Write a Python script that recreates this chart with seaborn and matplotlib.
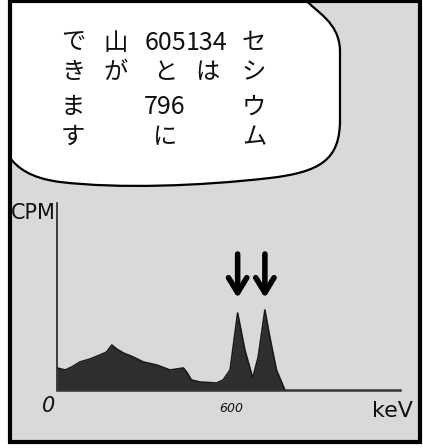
import matplotlib
matplotlib.use("Agg")
import matplotlib.pyplot as plt
from matplotlib.path import Path
from matplotlib.patches import PathPatch, Rectangle
import pandas as pd
import seaborn as sns

# spectrum (keV, counts in arbitrary units)
kev = [1, 28, 51, 79, 114, 148, 171, 189, 206, 229, 263, 298, 344, 390, 436, 447,
       464, 493, 551, 573, 597, 623, 648, 675, 694, 717, 734, 757, 786]
cpm = [22, 20, 23, 28, 31, 35, 38, 45, 41, 37, 33, 28, 25, 20, 22, 18,
       10, 8, 7, 10, 20, 77, 40, 12, 33, 80, 53, 20, 0]
peak_kev = [623, 717]
x_ticks = [0, 600]
x_tick_labels = ["0", "600"]

# speech bubble, vertical text read right to left
bubble_cols = [
    ["セ", "シ", "ウ", "ム"],
    ["134", "は"],
    ["605", "と", "796", "に"],
    ["山", "が"],
    ["で", "き", "ま", "す"],
]
col_x = [254, 207, 165, 116, 73]
row_y = [43, 72, 107, 137]

sns.set_theme(style="white")
plt.rcParams["font.family"] = ["Noto Sans CJK JP", "DejaVu Sans"]

W, H = 423, 448
fig = plt.figure(figsize=(W / 100, H / 100), dpi=100)
fig.patch.set_facecolor("white")

# panel layer in pixel coordinates
bg = fig.add_axes([0, 0, 1, 1])
bg.set_xlim(0, W)
bg.set_ylim(H, 0)
bg.axis("off")
bg.add_patch(Rectangle((10, 1), 410, 441, facecolor="#d9d9d9", edgecolor="none"))

verts = [(10, 0), (306, 0),
         (316, 12), (339, 22), (340, 50),
         (340, 120),
         (340, 160), (320, 172), (270, 178),
         (200, 186), (120, 189), (60, 182),
         (30, 178), (18, 168), (10, 158),
         (10, 0)]
codes = [Path.MOVETO, Path.LINETO,
         Path.CURVE4, Path.CURVE4, Path.CURVE4,
         Path.LINETO,
         Path.CURVE4, Path.CURVE4, Path.CURVE4,
         Path.CURVE4, Path.CURVE4, Path.CURVE4,
         Path.CURVE4, Path.CURVE4, Path.CURVE4,
         Path.CLOSEPOLY]
bg.add_patch(PathPatch(Path(verts, codes), facecolor="white", edgecolor="black", lw=1.6))
bg.add_patch(Rectangle((10, 1), 410, 441, facecolor="none", edgecolor="black", lw=3))

for cells, x in zip(bubble_cols, col_x):
    for ch, y in zip(cells, row_y):
        if ch.isdigit():
            bg.text(x, y, ch, ha="center", va="center", fontsize=18, color="#111111")
        else:
            bg.text(x, y, ch, ha="center", va="center", fontsize=17.5, color="#111111")

# spectrum chart
ax = fig.add_axes([57 / W, 58 / H, 343 / W, 187 / H])
ax.patch.set_alpha(0)
df = pd.DataFrame({"keV": kev, "CPM": cpm})
ax.fill_between(df["keV"], df["CPM"], color="#2e2e2e", lw=0)
sns.lineplot(data=df, x="keV", y="CPM", ax=ax, color="#1a1a1a", lw=1.2)
ax.set_xlim(0, 1183)
ax.set_ylim(0, 187)
ax.set_xlabel("")
ax.set_ylabel("")
ax.set_xticks([])
ax.set_yticks([])
for side in ["top", "right"]:
    ax.spines[side].set_visible(False)
ax.spines["left"].set_color("#222222")
ax.spines["left"].set_linewidth(1.2)
ax.spines["bottom"].set_color("#333333")
ax.spines["bottom"].set_linewidth(1.8)

# arrows pointing at the two peaks
for x in peak_kev:
    ax.annotate("", xy=(x, 92), xytext=(x, 136),
                arrowprops=dict(arrowstyle="->,head_length=0.9,head_width=0.55",
                                lw=4, color="black", shrinkA=0, shrinkB=0))

bg.text(33, 213, "CPM", ha="center", va="center", fontsize=15,
        family=["DejaVu Sans"], color="#111111")
bg.text(49, 406, x_tick_labels[0], ha="center", va="center", fontsize=15,
        style="italic", family=["DejaVu Sans"], color="#111111")
ax.text(x_ticks[1], -18, x_tick_labels[1], ha="center", va="center", fontsize=9,
        style="italic", family=["DejaVu Sans"], color="#111111")
bg.text(392, 411, "keV", ha="center", va="center", fontsize=16,
        family=["DejaVu Sans"], color="#111111")

fig.savefig("out.png", dpi=100)
